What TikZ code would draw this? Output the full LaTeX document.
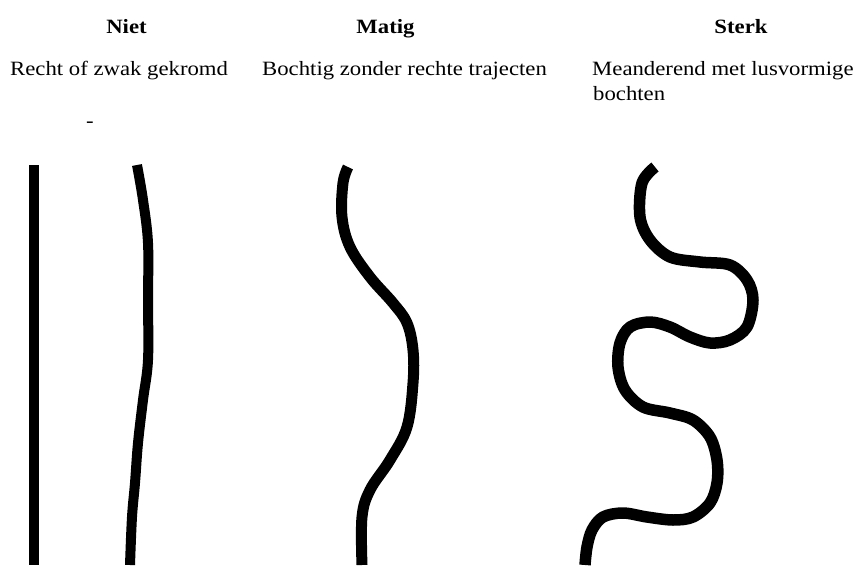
\documentclass[tikz,border=0pt]{standalone}
\usepackage{fontspec}
\setmainfont{Liberation Serif}[FakeStretch=1.12]
\begin{document}
\begin{tikzpicture}[x=1pt,y=-1pt,
  head/.style={font=\fontsize{20.3}{24}\selectfont\bfseries, anchor=base, inner sep=0pt},
  desc/.style={font=\fontsize{20.3}{24}\selectfont, anchor=base west, inner sep=0pt},
  river/.style={line width=10pt, line cap=butt, line join=round}]
\useasboundingbox (0,0) rectangle (854,565);
% headings
\node[head] (niet) at (126.5,33) {Niet};
\node[head] (matig) at (385.5,33) {Matig};
\node[head] (sterk) at (741,33) {Sterk};
% descriptions
\node[desc] (dniet) at (10,75) {Recht of zwak gekromd};
\node[desc] (dmatig) at (262,75) {Bochtig zonder rechte trajecten};
\node[desc] (dsterk) at (592,75) {Meanderend met lusvormige};
\node[desc] (dsterk2) at (593,100) {bochten};
\node[desc] (dash) at (86,127) {-};
% Niet: straight line
\draw[river] (34,165) -- (34,565);
% Niet: slightly curved
\draw[river] plot[smooth, tension=0.6] coordinates {
  (137,165) (143,200) (148,243) (148,300) (148,360) (143,400)
  (138,443) (135,483) (132,517) (130,565)};
% Matig
\draw[river, line width=11pt] plot[smooth, tension=0.6] coordinates {
  (348,167) (343,183) (342,217) (350,247) (370,277) (393,303)
  (407,323) (413,350) (413,383) (407,427) (390,460) (370,490)
  (362,517) (362,565)};
% Sterk
\draw[river, line width=11.5pt] plot[smooth, tension=0.55] coordinates {
  (655,167) (642,183) (640,217) (650,240) (670,257) (700,262)
  (730,265) (747,280) (753,300) (747,327) (730,340) (710,343)
  (690,337) (670,327) (650,322) (630,327) (620,343) (618,367)
  (625,390) (643,407) (670,413) (693,420) (710,437) (717,460)
  (717,483) (710,503) (693,517) (673,520) (647,517) (623,513)
  (603,517) (592,530) (587,547) (585,565)};
\end{tikzpicture}
\end{document}
